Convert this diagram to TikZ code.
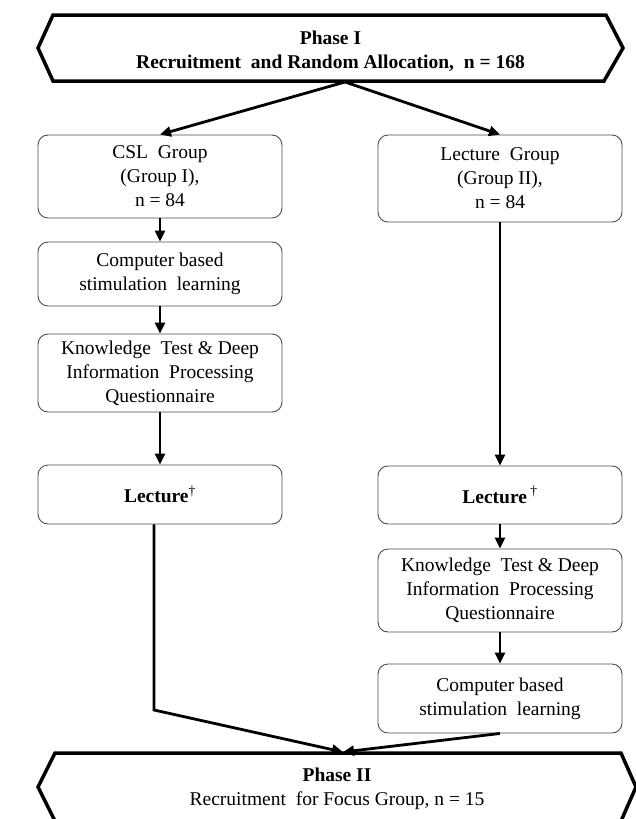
\documentclass[tikz,border=0pt]{standalone}
\usepackage{fontspec}
\setmainfont{Liberation Serif}
\usetikzlibrary{arrows.meta}
\begin{document}
\begin{tikzpicture}[x=1pt,y=-1pt,
  box/.style={draw=black!70, line width=0.9pt, rounded corners=10pt, align=center, inner sep=0pt,
    font=\fontsize{19.5}{24}\selectfont, minimum width=244pt},
  hex/.style={draw=black, line width=3.5pt, line join=miter},
  flow/.style={draw=black, line width=2.8pt, -{Triangle[length=11pt,width=10pt]}},
  lbl/.style={align=center, inner sep=0pt, font=\fontsize{19.5}{23.5}\selectfont}]
\useasboundingbox (0,0) rectangle (636,819);

% Phase I hexagon
\draw[hex] (53,15) -- (606,15) -- (623,48) -- (604,81) -- (53,81) -- (38,48) -- cycle;
\node[lbl] (ph1) at (330.5,51) {\textbf{Phase I}\\\textbf{Recruitment\ \ and Random Allocation,\ \ n = 168}};
\coordinate (p1b) at (345,82);

% Phase II hexagon
\draw[hex] (55,753) -- (621,753) -- (636,787) -- (621,821) -- (55,821) -- (38,787) -- cycle;
\node[lbl] (ph2) at (337,789) {\textbf{Phase II}\\Recruitment\ \ for Focus Group, n = 15};
\coordinate (p2t) at (343,752);

% Left column
\node[box, minimum height=83pt] (csl) at (160,176.5) {CSL\ \ Group\\(Group I),\\n = 84};
\node[box, minimum height=64pt] (comp1) at (160,274) {Computer based\\stimulation\ \ learning};
\node[box, minimum height=78pt] (know1) at (160,373) {Knowledge\ \ Test \& Deep\\Information\ \ Processing\\Questionnaire};
\node[box, minimum height=59pt] (lect1) at (160,494.5) {\textbf{Lecture}\textsuperscript{†}};

% Right column
\node[box, minimum height=87pt] (lgrp) at (500,178.5) {Lecture\ \ Group\\(Group II),\\n = 84};
\node[box, minimum height=58pt] (lect2) at (500,495) {\textbf{Lecture}\,\textsuperscript{†}};
\node[box, minimum height=83pt] (know2) at (500,590.5) {Knowledge\ \ Test \& Deep\\Information\ \ Processing\\Questionnaire};
\node[box, minimum height=69pt] (comp2) at (500,698.5) {Computer based\\stimulation\ \ learning};

% Connectors
\draw[flow] (p1b) -- (csl.north);
\draw[flow] (p1b) -- (lgrp.north);
\draw[flow] (csl.south) -- (comp1.north);
\draw[flow] (comp1.south) -- (know1.north);
\draw[flow] (know1.south) -- (lect1.north);
\draw[flow] (lgrp.south) -- (lect2.north);
\draw[flow] (lect2.south) -- (know2.north);
\draw[flow] (know2.south) -- (comp2.north);
\coordinate (bend) at (154,710);
\draw[flow, line join=miter] (lect1.south -| bend) -- (bend) -- (p2t);
\draw[flow] (comp2.south) -- (p2t);
\end{tikzpicture}
\end{document}
